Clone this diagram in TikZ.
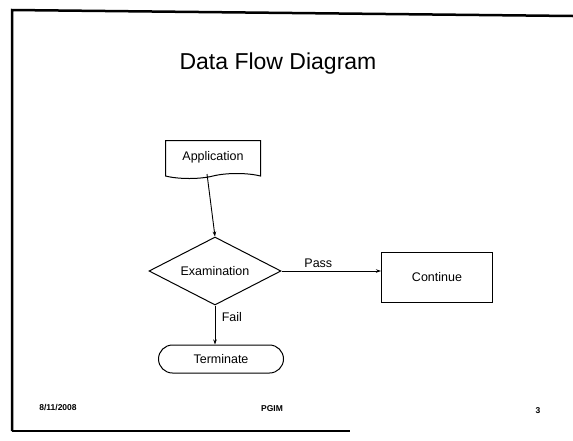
\documentclass[tikz,border=0pt]{standalone}
\usepackage{fontspec}
\setmainfont{Liberation Sans}
\usetikzlibrary{shapes,arrows.meta,positioning}

\begin{document}
\begin{tikzpicture}[x=1pt,y=-1pt,
    every node/.style={font=\fontsize{12.5}{14}\selectfont},
    box/.style={draw,line width=1pt,inner sep=2pt},
    flow/.style={-{Stealth[length=5pt,width=3.5pt]},line width=0.9pt},
    footer/.style={font=\fontsize{8.5}{10}\selectfont\bfseries}]
\useasboundingbox (0,0) rectangle (573,440);
% Slide frame
\draw[line width=2.5pt] (12,431) -- (12,10) -- (573,16);
\draw[line width=2pt] (12,431) -- (350,431);
% Title
\node (title) at (278,64) {\fontsize{23}{26}\selectfont Data Flow Diagram};
% Blocks
\node[box,tape,tape bend top=none,tape bend bottom=in and out,tape bend height=5pt,
      minimum width=95pt,minimum height=38pt] (app) at (213,157) {Application};
\node[box,diamond,aspect=1.94,minimum width=132pt,minimum height=68pt,inner sep=0pt]
      (exam) at (215,271) {Examination};
\node[box,minimum width=111pt,minimum height=50pt] (cont) at (437,277) {Continue};
\node[box,rounded rectangle,minimum width=129pt,minimum height=28pt] (term) at (221,359) {Terminate};
% Flows
\draw[flow] ([xshift=-6pt]app.south) -- (exam.north);
\draw[flow] (exam.east) -- node[above,pos=0.37] {Pass} (exam.east -| cont.west);
\draw[flow] (exam.south) -- node[right,pos=0.3,xshift=3pt] {Fail} (exam.south |- term.north);
% Footer
\node[footer] (date) at (58,407) {8/11/2008};
\node[footer] (org) at (272,409) {PGIM};
\node[footer] (page) at (538,411) {3};
\end{tikzpicture}
\end{document}
